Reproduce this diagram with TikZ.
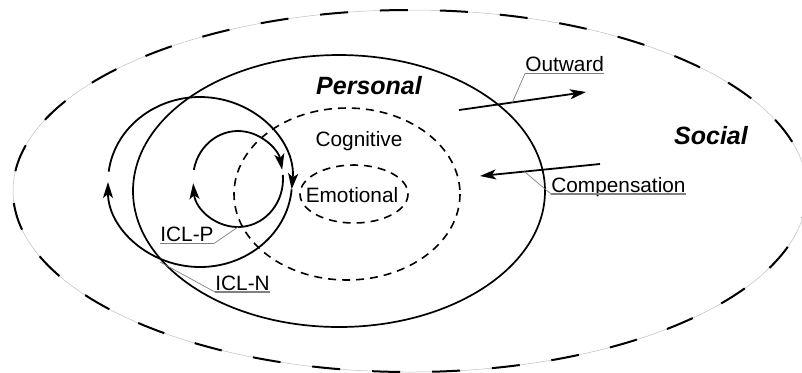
\documentclass[tikz,border=0pt]{standalone}
\usepackage{fontspec}
\setmainfont{Liberation Sans}
\usetikzlibrary{arrows.meta}
\newcommand{\lblfont}{\fontsize{10.4}{12}\selectfont}
\newcommand{\zonefont}{\fontsize{12.5}{14}\selectfont\bfseries\itshape}

\begin{document}
\begin{tikzpicture}[x=0.5pt, y=-0.5pt,
    % Styles for rings, loops and labels
    >={Stealth[length=8pt,width=5pt,inset=2pt]},
    ring/.style = {line width=0.85pt},
    inner/.style = {line width=0.8pt, dash pattern=on 4pt off 3pt},
    outer/.style = {line width=1pt, dash pattern=on 14pt off 16pt},
    loopline/.style = {line width=0.9pt, ->},
    flow/.style = {line width=0.9pt, ->},
    zone/.style = {font=\zonefont, anchor=base},
    layer/.style = {font=\lblfont, anchor=base},
    tag/.style = {font=\lblfont, anchor=south west, inner xsep=0pt, inner ysep=0.75pt, text depth=0pt},
    under/.style = {gray, line width=0.6pt},
    leader/.style = {gray, line width=0.35pt}
]
    \useasboundingbox (0,0) rectangle (802,372);

    % 1. Social ring: thin guide line under long dashes
    \draw[gray!50, line width=0.25pt] (410,191) ellipse [x radius=397, y radius=181];
    \draw[outer] (410,191) ellipse [x radius=397, y radius=181];

    % 2. Personal, cognitive and emotional rings
    \draw[ring]  (339,191) ellipse [x radius=206, y radius=136];
    \draw[inner] (347,194) ellipse [x radius=113, y radius=86];
    \draw[inner] (354,194) ellipse [x radius=54, y radius=29];

    % 3. Ring names
    \node[zone]  (personal)  at (369,94)    {Personal};
    \node[zone]  (social)    at (711,144)   {Social};
    \node[layer] (cognitive) at (359,146.5) {Cognitive};
    \node[layer] (emotional) at (352,202.5) {Emotional};

    % 4. Loops (two arcs each, arrow at each end)
    \draw[loopline] ([shift={(200,182)}]187:92 and 85) arc[start angle=187, end angle=365, x radius=92, y radius=85];
    \draw[loopline] ([shift={(200,182)}]5:92 and 85) arc[start angle=5, end angle=180, x radius=92, y radius=85];
    \draw[loopline] ([shift={(238,179)}]191:45 and 48) arc[start angle=191, end angle=349, x radius=45, y radius=48];
    \draw[loopline] ([shift={(238,179)}]-5:45 and 48) arc[start angle=-5, end angle=175, x radius=45, y radius=48];
    \coordinate (iclpB) at (238,227);
    \coordinate (iclnB) at (160,262);

    % 5. Flows across the personal ring
    \coordinate (outA) at (459,110);
    \coordinate (outB) at (586,92);
    \coordinate (cmpA) at (600,164);
    \coordinate (cmpB) at (480,176);
    \draw[flow] (outA) -- (outB) coordinate[pos=0.42] (outM);
    \draw[flow] (cmpA) -- (cmpB) coordinate[pos=0.63] (cmpM);

    % 6. Underlined tags with leader lines
    \node[tag] (iclp) at (160,243.5) {ICL-P};
    \node[tag] (icln) at (215,292)   {ICL-N};
    \node[tag] (outw) at (525,73.5)  {Outward};
    \node[tag] (comp) at (551,194)   {Compensation};

    \draw[under] (iclp.south west) -- (iclp.south east);
    \draw[under] (icln.south west) -- (icln.south east);
    \draw[under] (outw.south west) -- (outw.south east);
    \draw[under] (comp.south west) -- (comp.south east);

    \draw[leader] (iclp.south east) -- (iclpB);
    \draw[leader] (icln.south west) -- (iclnB);
    \draw[leader] (outw.south west) -- (outM);
    \draw[leader] (comp.south west) -- (cmpM);

\end{tikzpicture}
\end{document}
